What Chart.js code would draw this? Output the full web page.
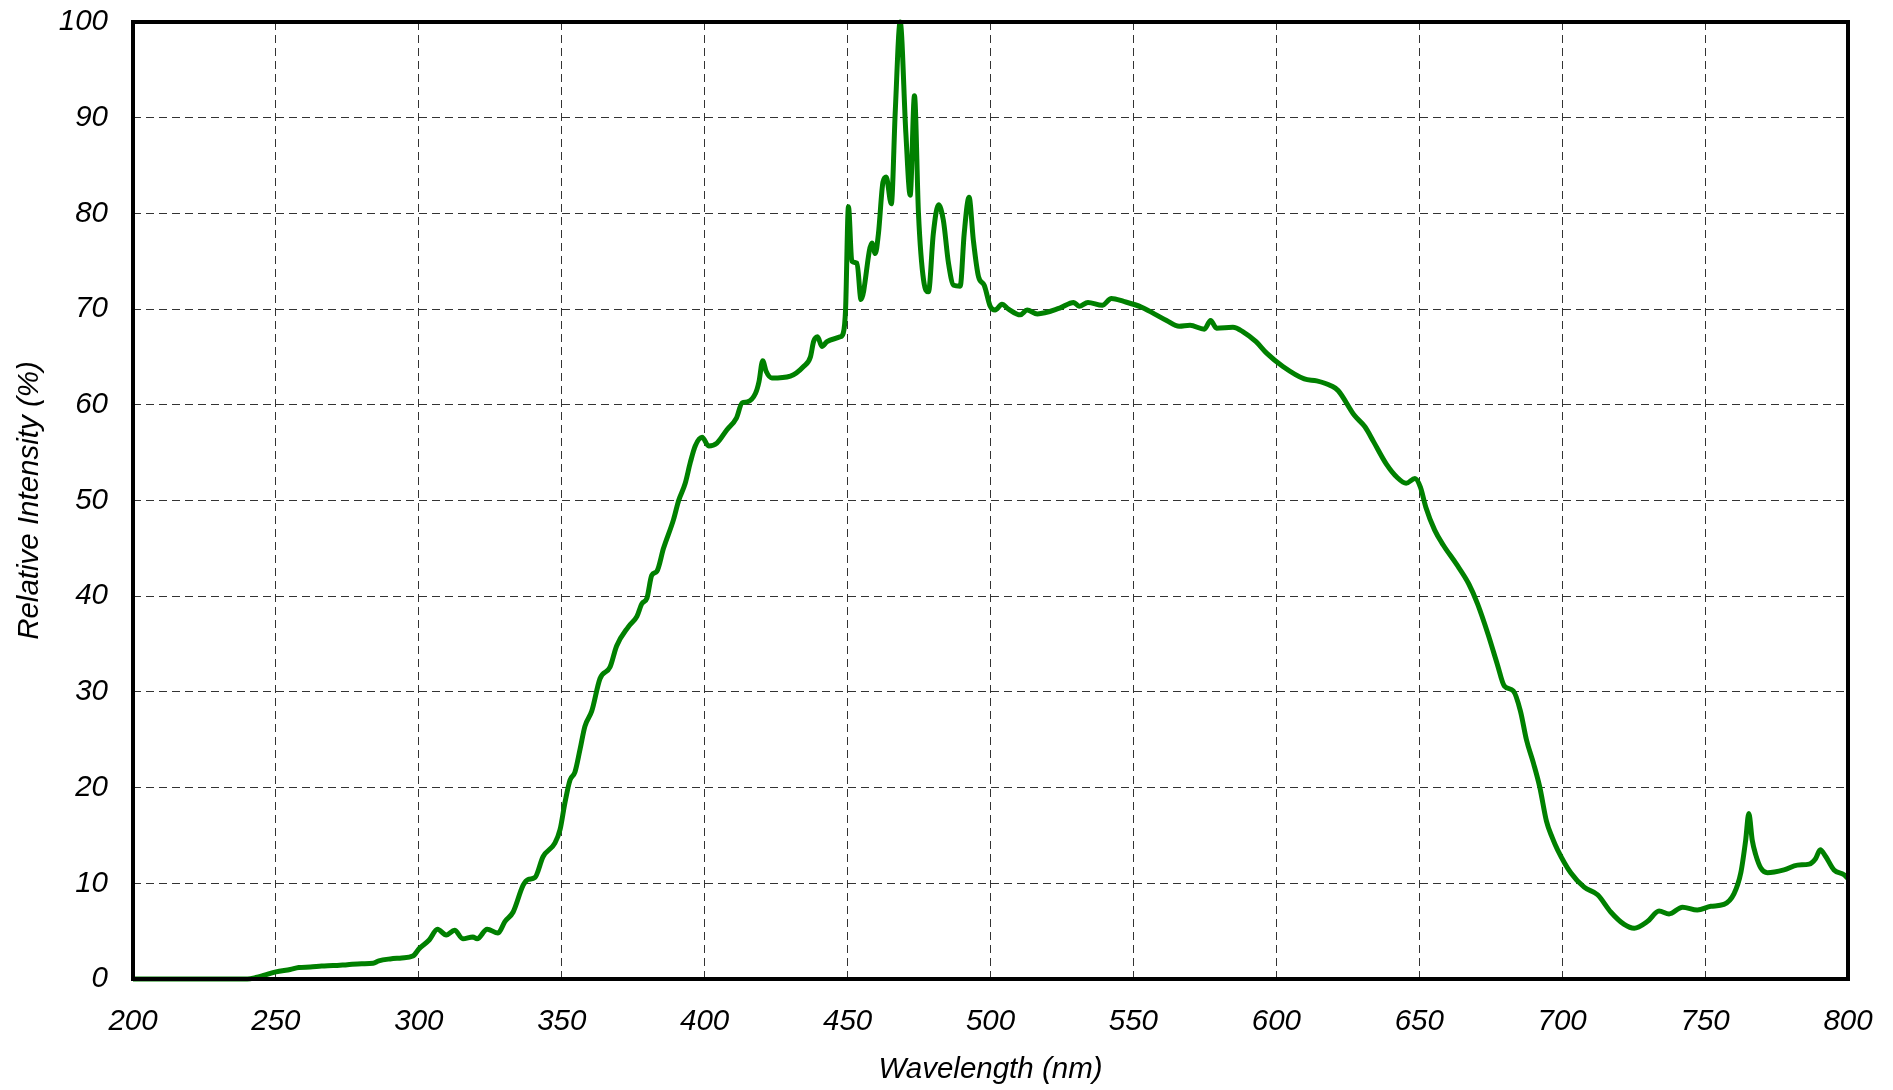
<!DOCTYPE html>
<html>
<head>
<meta charset="utf-8">
<script src="https://cdn.jsdelivr.net/npm/chart.js@4.4.1/dist/chart.umd.min.js"></script>
<style>
  html, body { margin: 0; padding: 0; background: #fff; }
  #wrap { width: 1893px; height: 1090px; }
</style>
</head>
<body>
<div id="wrap"><canvas id="c" width="1893" height="1090"></canvas></div>
<script>
// Wavelength (nm)
const wavelengths = [
  200, 210, 220, 230, 240, 243, 246, 250, 255, 258, 262, 266, 270, 275, 280, 284, 286, 290, 294, 297.9,
  300.2, 303.7, 306.5, 309.6, 312.5, 315.4, 318.9, 320.4, 323.9, 327.7, 330.1, 333, 336.5, 338.2, 340.6,
  343.5, 347.6, 349.4, 351.1, 352.9, 354.6, 356.4, 358.1, 360.5, 363.4, 366.9, 369.2, 373.3, 376.3, 378,
  379.8, 381.5, 383.3, 385.6, 389.1, 390.9, 393.2, 395, 396.7, 399.1, 401.4, 404.3, 407.8, 411.1, 413.1,
  414.9, 417.8, 419, 420.3, 421.5, 423.5, 430, 434.6, 437, 438.1, 439.5, 441, 442.8, 447.4, 448.5, 449.3,
  450.3, 451.5, 453.3, 454.7, 458.5, 459.7, 460.8, 462.4, 463.5, 465.3, 466.7, 468.4, 470.4, 471.9, 473.4,
  474.8, 476.6, 478.3, 480, 481.8, 483.5, 485.3, 487.1, 489.4, 490.8, 492.5, 494, 495.8, 497.8, 499.9,
  501.6, 504, 506.3, 510.4, 512.8, 516.4, 524.2, 529.1, 531, 534.1, 539.1, 542.3, 546.6, 552.9, 557.3,
  561.6, 566, 569.8, 574.8, 577, 579.1, 584.8, 588.5, 592.9, 596.6, 602.3, 609.8, 614.1, 619.1, 621.6,
  627.3, 631, 634.1, 638.5, 642.3, 645.4, 648.5, 650.4, 652.3, 655.4, 658.5, 662.9, 667.3, 670.4, 674.1,
  677.3, 679.8, 682.9, 685.4, 687.5, 690, 692.2, 694.5, 696.5, 698.4, 703, 707.7, 712.4, 717, 721.7,
  725.2, 729.8, 733.9, 737.4, 742.1, 747.3, 752, 756.6, 760.1, 762.5, 764.2, 765.3, 766.5, 767.7, 769.5,
  771.8, 777.6, 782.3, 786.4, 788.7, 790.3, 792.2, 795.1, 798.6, 800
];
// Relative intensity (%)
const intensity = [
  0, 0, 0, 0, 0, 0.15, 0.4, 0.75, 1.0, 1.2, 1.25, 1.35, 1.4, 1.5, 1.6, 1.65, 1.9, 2.1, 2.2, 2.4,
  3.2, 4.1, 5.2, 4.6, 5.1, 4.2, 4.4, 4.2, 5.2, 4.8, 6, 7, 9.8, 10.4, 10.6,
  12.8, 14.2, 15.6, 18.4, 20.8, 21.6, 24, 26.4, 28, 31.4, 32.6, 34.8, 36.8, 37.9, 39.2,
  39.8, 42.2, 42.6, 45, 48, 50, 51.8, 54, 55.7, 56.6, 55.7, 56, 57.4, 58.6, 60.2,
  60.3, 61.2, 62.4, 64.6, 63.5, 62.8, 63, 64, 65, 66.6, 67.1, 66.1, 66.6, 67.1, 67.5, 70,
  80.7, 75, 74.8, 71, 76.9, 75.8, 77.9, 83.3, 83.8, 81, 90.8, 100, 88.3, 81.9, 92.3,
  80, 73, 71.8, 77.9, 80.9, 79.3, 74.8, 72.5, 72.4, 77.9, 81.7, 77.2, 73.4, 72.5, 70.3,
  69.9, 70.5, 70, 69.4, 69.9, 69.5, 70.1, 70.7, 70.3, 70.7, 70.4, 71.1, 70.8, 70.2, 69.5,
  68.8, 68.2, 68.3, 67.9, 68.8, 68, 68.1, 67.6, 66.6, 65.4, 64, 62.7, 62.5, 62, 61.5,
  58.9, 57.7, 56.1, 53.8, 52.4, 51.8, 52.3, 51.4, 49.3, 46.9, 45.3, 43.4, 41.3, 39.2, 36,
  32.9, 30.6, 30.1, 28, 25, 22.5, 20, 16.5, 14.8, 13.5, 11.1, 9.6, 8.8, 7, 5.7,
  5.3, 6, 7.1, 6.8, 7.5, 7.2, 7.6, 7.8, 8.9, 11.1, 14.5, 17.3, 14.5, 13, 11.6,
  11.1, 11.4, 11.9, 12, 12.6, 13.5, 12.8, 11.4, 10.9, 10.5
];
const xTicks = [200, 250, 300, 350, 400, 450, 500, 550, 600, 650, 700, 750, 800];
const yTicks = [0, 10, 20, 30, 40, 50, 60, 70, 80, 90, 100];
const xTitle = 'Wavelength (nm)';
const yTitle = 'Relative Intensity (%)';

const points = wavelengths.map((w, i) => ({ x: w, y: intensity[i] }));

const frame = {
  id: 'frame',
  afterDraw(chart) {
    const { ctx, chartArea: a } = chart;
    ctx.save();
    ctx.strokeStyle = '#000';
    ctx.lineWidth = 4;
    ctx.setLineDash([]);
    ctx.strokeRect(a.left, a.top, a.right - a.left, a.bottom - a.top);
    ctx.restore();
  }
};

const FAM = '"Liberation Sans", Arial, sans-serif';
const tickFont = { family: FAM, size: 29.5, style: 'italic' };

new Chart(document.getElementById('c'), {
  type: 'line',
  data: {
    datasets: [{
      data: points,
      borderColor: '#008000',
      borderWidth: 5,
      pointRadius: 0,
      fill: false,
      cubicInterpolationMode: 'monotone',
      clip: 4
    }]
  },
  options: {
    responsive: false,
    animation: false,
    devicePixelRatio: 1,
    layout: { padding: { top: 22, right: 45, left: 0, bottom: 0 } },
    plugins: { legend: { display: false }, tooltip: { enabled: false } },
    scales: {
      x: {
        type: 'linear',
        min: 200, max: 800,
        afterBuildTicks(scale) { scale.ticks = xTicks.map(v => ({ value: v })); },
        afterFit(scale) { scale.height = 111; scale.paddingLeft = 0; scale.paddingRight = 0; },
        grid: { color: '#333', lineWidth: 1, drawTicks: false },
        border: { display: false, dash: [8, 5] },
        ticks: { color: '#000', font: tickFont, padding: 25, maxRotation: 0 },
        title: { display: true, text: xTitle, color: '#000',
                 font: { family: FAM, size: 29.5, style: 'italic', lineHeight: 1.36 },
                 padding: 0 }
      },
      y: {
        type: 'linear',
        min: 0, max: 100,
        afterBuildTicks(scale) { scale.ticks = yTicks.map(v => ({ value: v })); },
        afterFit(scale) { scale.width = 133; scale.paddingTop = 0; scale.paddingBottom = 0; },
        grid: { color: '#333', lineWidth: 1, drawTicks: false },
        border: { display: false, dash: [8, 5] },
        ticks: { color: '#000', font: tickFont, padding: 25 },
        title: { display: true, text: yTitle, color: '#000',
                 font: { family: FAM, size: 29.5, style: 'italic', lineHeight: 2.0 },
                 padding: 0 }
      }
    }
  },
  plugins: [frame]
});
</script>
</body>
</html>
